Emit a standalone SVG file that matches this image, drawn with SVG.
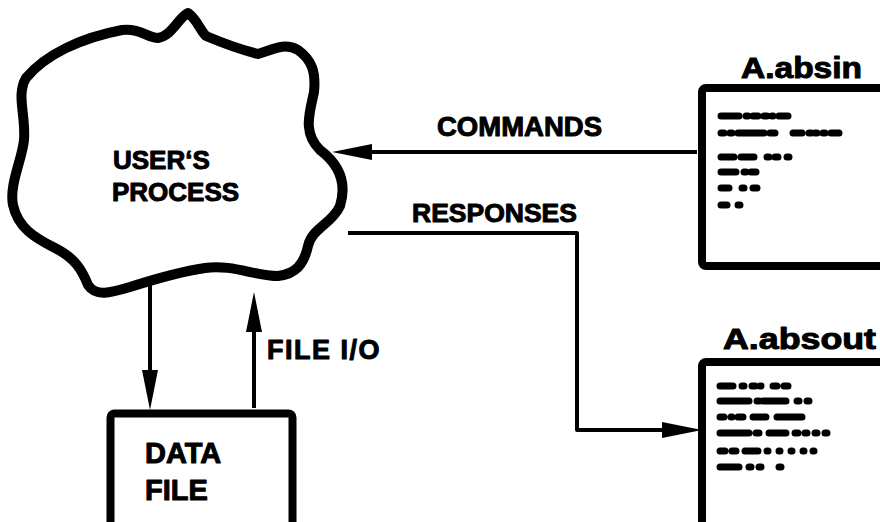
<svg xmlns="http://www.w3.org/2000/svg" width="880" height="522" viewBox="0 0 880 522">
<style>
.lbl{font-family:"Liberation Sans",Arial,sans-serif;font-weight:bold;fill:#000;stroke:#000;stroke-width:1;stroke-linejoin:round}
.box{fill:#fff;stroke:#000;stroke-width:8;stroke-linejoin:round}
.conn{fill:none;stroke:#000;stroke-width:4;stroke-linejoin:round}
.blob{fill:none;stroke:#000;stroke-width:7;stroke-linecap:round}
</style>
<defs>
<marker id="ah" markerUnits="userSpaceOnUse" markerWidth="42" markerHeight="18" refX="0" refY="8" orient="auto" overflow="visible">
<path d="M0,0 L40,8 L0,16 Z" fill="#000"/>
</marker>
</defs>
<rect width="880" height="522" fill="#fff"/>

<g id="users-process">
<path d="M26,78 C45,55 80,38 122,30 C140,28 148,38 158,38 C172,36 178,18 188,13 C196,18 200,30 206,36 C225,44 242,50 258,54 C272,50 284,42 298,50 C312,60 316,72 314,92 C310,112 302,132 320,150 C336,162 348,180 340,206 C332,224 312,228 308,246 C304,264 296,274 278,276 C255,276 232,264 205,268 C178,272 152,280 130,287 C110,293 96,297 88,285 C82,270 75,258 55,248 C35,238 18,228 13,205 C9,185 22,160 24,140 C26,115 16,95 26,78 Z" fill="#fff" stroke="#000" stroke-width="10" stroke-linejoin="round"/>
<text class="lbl" x="113" y="169" style="font-size:26px">USER‘S</text>
<text class="lbl" x="112" y="201" style="font-size:26px">PROCESS</text>
</g>

<g id="absin">
<text class="lbl" x="741" y="78" style="font-size:29px" textLength="121" lengthAdjust="spacingAndGlyphs">A.absin</text>
<rect class="box" x="702" y="88" width="200" height="178" rx="4"/>
<path class="blob" d="M721,116 h18 M746,116 h2 M753,116 h5 M764,116 h3 M772,116 h1 M779,116 h9
M721,133 h3 M730,133 h2 M738,133 h26 M770,133 h5 M793,133 h9 M809,133 h2 M815,133 h2 M823,133 h2 M831,133 h8
M721,157 h13 M741,157 h13 M767,157 h2 M775,157 h3 M787,157 h2
M721,172 h15 M744,172 h2 M751,172 h5
M721,188 h8 M742,188 h2 M753,188 h4
M721,205 h6 M738,205 h2"/>
</g>

<g id="absout">
<text class="lbl" x="723" y="349" style="font-size:29px" textLength="153" lengthAdjust="spacingAndGlyphs">A.absout</text>
<rect class="box" x="702" y="362" width="200" height="200" rx="4"/>
<path class="blob" d="M720,386 h13 M742,386 h2 M752,386 h3 M760,386 h1 M773,386 h4 M784,386 h4
M720,401 h29 M757,401 h2 M763,401 h23 M797,401 h2 M807,401 h2
M720,417 h4 M731,417 h1 M738,417 h5 M753,417 h13 M777,417 h25
M720,433 h29 M756,433 h3 M769,433 h17 M795,433 h3 M805,433 h2 M815,433 h2 M825,433 h2
M720,451 h5 M732,451 h4 M745,451 h13 M767,451 h1 M779,451 h1 M791,451 h1 M803,451 h1 M813,451 h1
M720,467 h19 M749,467 h2 M759,467 h2 M779,467 h2"/>
</g>

<g id="data-file">
<rect class="box" x="110.5" y="413.5" width="182" height="200" rx="4" stroke-width="9"/>
<text class="lbl" x="145" y="463" style="font-size:29px">DATA</text>
<text class="lbl" x="145" y="500" style="font-size:29px">FILE</text>
</g>

<g id="connectors">
<path class="conn" d="M697,152 H372" marker-end="url(#ah)"/>
<path class="conn" d="M348,233 H577 V430 H662" marker-end="url(#ah)"/>
<path class="conn" d="M150,285 V370" stroke-width="5" marker-end="url(#ah)"/>
<path class="conn" d="M254,408 V332" stroke-width="5" marker-end="url(#ah)"/>
<text class="lbl" x="437" y="136" style="font-size:27.5px">COMMANDS</text>
<text class="lbl" x="412" y="222" style="font-size:26.5px">RESPONSES</text>
<text class="lbl" x="267" y="359" style="font-size:27px;letter-spacing:1.5px">FILE I/O</text>
</g>
</svg>
